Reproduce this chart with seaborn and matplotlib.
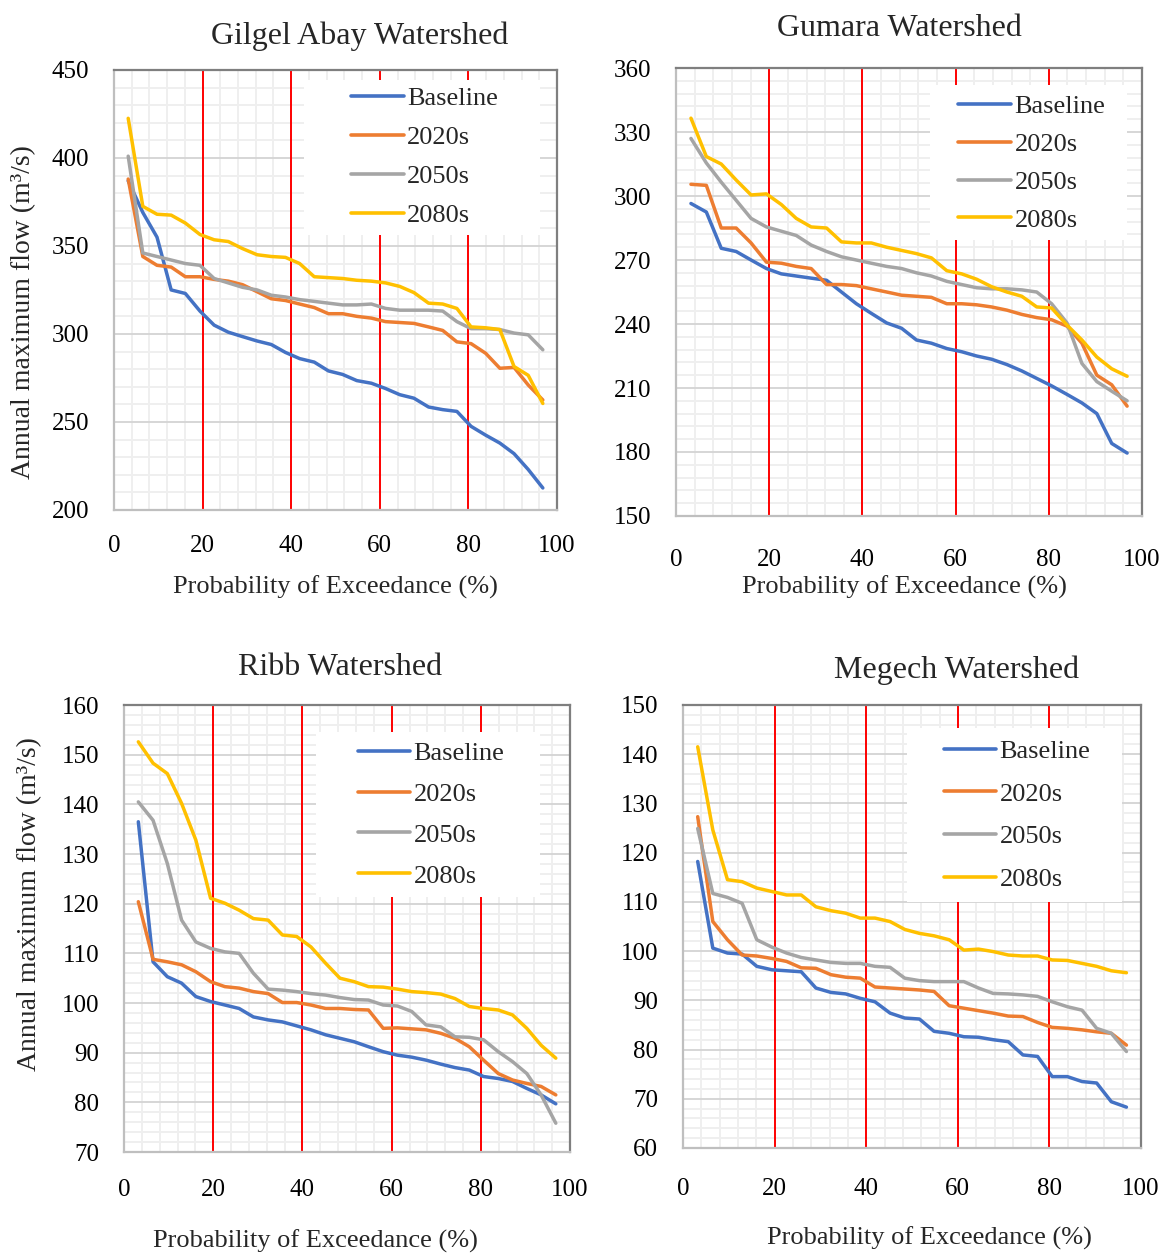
import pandas as pd
import matplotlib.pyplot as plt
import seaborn as sns
from matplotlib.patches import Rectangle
from matplotlib.ticker import MultipleLocator

# ---------------------------------------------------------------
# Data (30 ranked annual maxima)
# ---------------------------------------------------------------
prob = [3.2, 6.5, 9.7, 12.9, 16.1, 19.4, 22.6, 25.8, 29.0, 32.3,
        35.5, 38.7, 41.9, 45.2, 48.4, 51.6, 54.8, 58.1, 61.3, 64.5,
        67.7, 71.0, 74.2, 77.4, 80.6, 83.9, 87.1, 90.3, 93.5, 96.8]

scenarios = ["Baseline", "2020s", "2050s", "2080s"]
colors = ["#4472C4", "#ED7D31", "#A5A5A5", "#FFC000"]

# Gilgel Abay
gilgel_baseline = [387, 369, 355, 325, 323, 313, 305, 301, 298.5, 296,
                   294, 289.5, 286, 284, 279, 277, 273.5, 272, 269, 265.5,
                   263.5, 258.5, 257, 256, 247.5, 242.5, 238, 232, 223, 212.5]
gilgel_2020s = [388, 344, 339, 338, 332.5, 332.5, 331, 330, 328, 324,
                320, 319, 317, 315, 311.5, 311.5, 310, 309, 307, 306.5,
                306, 304, 302, 295.5, 294.5, 289, 280.5, 281, 271, 262.5]
gilgel_2050s = [401, 346, 344, 342, 340, 339, 331.5, 329, 326.5, 325,
                322, 321, 319.5, 318.5, 317.5, 316.5, 316.5, 317, 314.5, 313.5,
                313.5, 313.5, 313, 307, 303, 303, 302.5, 300.5, 299.5, 291]
gilgel_2080s = [422.5, 372.5, 368, 367.5, 363, 356.5, 353.5, 352.5, 348.5, 345,
                344, 343.5, 340, 332.5, 332, 331.5, 330.5, 330, 329, 327,
                323.5, 317.5, 317, 314.5, 304, 303.5, 302.5, 281.5, 276.5, 260.5]

# Gumara
gumara_baseline = [296.5, 292.5, 275.5, 274, 270, 266, 263.5, 262.5, 261.5, 260.5,
                   255, 249.5, 245, 240.5, 238, 232.5, 231, 228.5, 227, 225,
                   223.5, 221, 218, 214.5, 211, 207, 203, 198, 184, 179.5]
gumara_2020s = [305.5, 305, 285, 285, 278, 269, 268.5, 267, 266, 258.5,
                258.5, 258, 256.5, 255, 253.5, 253, 252.5, 249.5, 249.5, 249,
                248, 246.5, 244.5, 243, 242, 239, 231, 216, 211.5, 201.5]
gumara_2050s = [327, 315.5, 306.5, 298, 289.5, 285.5, 283.5, 281.5, 277, 274,
                271.5, 270, 268.5, 267, 266, 264, 262.5, 260, 258.5, 257,
                256.5, 256.5, 256, 255, 249.5, 240.5, 221.5, 213, 208.5, 204]
gumara_2080s = [336.5, 318.5, 315, 307.5, 300.5, 301, 296, 289.5, 285.5, 285,
                278.5, 278, 278, 276, 274.5, 273, 271, 265, 263.5, 261,
                257.5, 255, 253, 248, 247.5, 239.5, 232.5, 224.5, 219, 215.5]

# Ribb
ribb_baseline = [136.5, 108.3, 105.3, 104, 101.3, 100.3, 99.6, 98.9, 97.2, 96.6,
                 96.2, 95.4, 94.6, 93.6, 92.9, 92.2, 91.2, 90.2, 89.5, 89.1,
                 88.5, 87.7, 87, 86.5, 85.2, 84.8, 84.2, 82.8, 81.5, 79.7]
ribb_2020s = [120.4, 108.8, 108.3, 107.7, 106.3, 104.3, 103.3, 103, 102.3, 101.9,
              100.1, 100.1, 99.6, 98.9, 98.9, 98.7, 98.6, 94.9, 95, 94.8,
              94.6, 93.9, 92.9, 91.2, 88.5, 85.8, 84.5, 83.8, 83.2, 81.5]
ribb_2050s = [140.5, 136.8, 128.1, 116.7, 112.3, 111, 110.3, 110, 106, 102.8,
              102.6, 102.3, 101.9, 101.6, 101.1, 100.7, 100.6, 99.6, 99.4, 98.3,
              95.6, 95.2, 93.2, 93.1, 92.6, 90.2, 88.2, 85.8, 81.5, 75.8]
ribb_2080s = [152.6, 148.3, 146.2, 140.2, 132.8, 121.1, 120.1, 118.7, 117, 116.7,
              113.7, 113.4, 111.3, 108, 105, 104.3, 103.3, 103.2, 102.8, 102.3,
              102.1, 101.8, 100.9, 99.3, 98.9, 98.6, 97.6, 94.9, 91.5, 88.9]

# Megech
megech_baseline = [118.2, 100.6, 99.6, 99.4, 96.9, 96.2, 96, 95.8, 92.5, 91.6,
                   91.3, 90.4, 89.7, 87.4, 86.4, 86.2, 83.7, 83.3, 82.6, 82.5,
                   82, 81.6, 78.9, 78.6, 74.5, 74.5, 73.5, 73.2, 69.4, 68.3]
megech_2020s = [127.3, 106, 102.3, 99.2, 99, 98.5, 97.9, 96.6, 96.5, 95.2,
                94.7, 94.5, 92.7, 92.5, 92.3, 92.1, 91.8, 88.9, 88.4, 87.9,
                87.4, 86.8, 86.7, 85.5, 84.5, 84.3, 84, 83.6, 83.3, 80.9]
megech_2050s = [124.9, 111.7, 110.9, 109.7, 102.3, 100.8, 99.6, 98.7, 98.2, 97.7,
                97.5, 97.5, 96.9, 96.7, 94.5, 94, 93.8, 93.8, 93.8, 92.5,
                91.4, 91.3, 91.1, 90.8, 89.7, 88.7, 88, 84.3, 83.3, 79.6]
megech_2080s = [141.5, 124.6, 114.5, 114.1, 112.8, 112.1, 111.4, 111.4, 109, 108.2,
                107.7, 106.7, 106.7, 106, 104.4, 103.6, 103.1, 102.3, 100.2, 100.4,
                99.9, 99.2, 99, 99, 98.2, 98.1, 97.5, 96.9, 96, 95.6]

sns.set_theme(style="white")
plt.rcParams["font.family"] = ["Liberation Serif", "DejaVu Serif"]
plt.rcParams["axes.unicode_minus"] = False


def to_long(series):
    # ghép 4 kịch bản thành một bảng dài cho seaborn
    frames = []
    for name, values in zip(scenarios, series):
        frames.append(pd.DataFrame({"prob": prob, "flow": values, "scenario": name}))
    return pd.concat(frames, ignore_index=True)


def plot_watershed(ax, title, series, ylim, ymajor, yminor, cfg):
    df = to_long(series)
    sns.lineplot(data=df, x="prob", y="flow", hue="scenario", palette=colors,
                 linewidth=2.5, sort=False, ax=ax, zorder=4)

    # khung lưới kiểu Excel
    ax.set_xlim(0, 100)
    ax.set_ylim(*ylim)
    ax.xaxis.set_major_locator(MultipleLocator(20))
    ax.xaxis.set_minor_locator(MultipleLocator(4))
    ax.yaxis.set_major_locator(MultipleLocator(ymajor))
    ax.yaxis.set_minor_locator(MultipleLocator(yminor))
    ax.grid(which="minor", color="#efefef", linewidth=1.4, zorder=0)
    ax.grid(which="major", axis="y", color="#d6d6d6", linewidth=1.4, zorder=1)
    ax.grid(which="major", axis="x", color="#efefef", linewidth=1.4, zorder=0)
    for xv in [20, 40, 60, 80]:
        ax.axvline(xv, color="#FF0000", linewidth=1.4, zorder=2)

    for side in ["left", "bottom"]:
        ax.spines[side].set_color("#bfbfbf")
    for side in ["top", "right"]:
        ax.spines[side].set_color("#7f7f7f")
    for sp in ax.spines.values():
        sp.set_linewidth(1.6)

    ax.tick_params(axis="y", length=0, labelsize=18, pad=18, colors="black")
    ax.tick_params(axis="x", length=0, labelsize=18, pad=cfg["xpad"], colors="black")
    ax.tick_params(which="minor", length=0)

    ax.set_title(title, fontsize=23, x=cfg["tx"], pad=cfg["tpad"])
    ax.set_xlabel("Probability of Exceedance (%)", fontsize=19)
    ax.xaxis.set_label_coords(cfg["xlx"], cfg["xly"])
    if cfg.get("ylabel"):
        ax.set_ylabel("Annual maximum flow (m³/s)", fontsize=20)
        ax.yaxis.set_label_coords(cfg["ylx"], cfg["yly"])
    else:
        ax.set_ylabel("")

    # nền trắng của hộp chú giải (che lưới như trong Excel)
    x0, x1, y0, y1 = cfg["box"]
    ax.add_patch(Rectangle((x0, y0), x1 - x0, y1 - y0, transform=ax.transAxes,
                           facecolor="white", edgecolor="none", zorder=3))

    handles, labels = ax.get_legend_handles_labels()
    leg = ax.legend(handles, labels, loc="upper left", bbox_to_anchor=cfg["leg"],
                    fontsize=19, frameon=False, handlelength=2.0, handletextpad=0.12,
                    labelspacing=cfg["lsp"], borderpad=0.05)
    leg.set_zorder(5)
    for line in leg.get_lines():
        line.set_linewidth(2.6)


fig = plt.figure(figsize=(11.67, 12.53), dpi=100)

ax1 = fig.add_axes([0.0977, 0.593, 0.3796, 0.3512])
ax2 = fig.add_axes([0.5793, 0.5882, 0.3993, 0.3575])
ax3 = fig.add_axes([0.1063, 0.0806, 0.3822, 0.3567])
ax4 = fig.add_axes([0.5853, 0.0838, 0.3925, 0.3536])

plot_watershed(ax1, "Gilgel Abay Watershed",
               [gilgel_baseline, gilgel_2020s, gilgel_2050s, gilgel_2080s],
               (200, 450), 50, 10,
               dict(tx=0.555, tpad=18.7, xpad=18, xlx=0.5, xly=-0.148,
                    ylabel=True, ylx=-0.176, yly=0.45, leg=(0.503, 0.995), lsp=0.59,
                    box=(0.429, 0.962, 0.625, 0.977)))
plot_watershed(ax2, "Gumara Watershed",
               [gumara_baseline, gumara_2020s, gumara_2050s, gumara_2080s],
               (150, 360), 30, 6,
               dict(tx=0.48, tpad=23, xpad=24, xlx=0.49, xly=-0.132,
                    leg=(0.575, 0.973), lsp=0.545,
                    box=(0.545, 0.968, 0.616, 0.962)))
plot_watershed(ax3, "Ribb Watershed",
               [ribb_baseline, ribb_2020s, ribb_2050s, ribb_2080s],
               (70, 160), 10, 2,
               dict(tx=0.484, tpad=21.6, xpad=19.5, xlx=0.428, xly=-0.1745,
                    ylabel=True, ylx=-0.184, yly=0.555, leg=(0.491, 0.951), lsp=0.66,
                    box=(0.430, 0.933, 0.570, 0.940)))
plot_watershed(ax4, "Megech Watershed",
               [megech_baseline, megech_2020s, megech_2050s, megech_2080s],
               (60, 150), 10, 2,
               dict(tx=0.598, tpad=19.4, xpad=21.5, xlx=0.539, xly=-0.178,
                    leg=(0.537, 0.955), lsp=0.73,
                    box=(0.489, 0.959, 0.555, 0.948)))

fig.savefig("out.png", dpi=100, facecolor="white")
